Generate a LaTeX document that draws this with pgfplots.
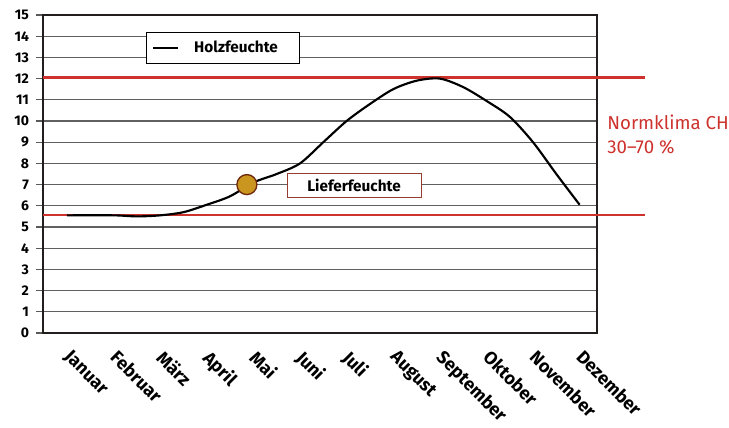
\documentclass[border=0pt]{standalone}
\usepackage{fontspec}
\setmainfont{Fira Sans}
\usepackage{pgfplots}
\pgfplotsset{compat=1.18}
\definecolor{nred}{RGB}{205,50,45}
\definecolor{gold}{RGB}{202,150,32}
\definecolor{brownb}{RGB}{110,40,12}
\definecolor{boxb}{RGB}{150,60,50}
\definecolor{frame}{RGB}{35,30,30}
\begin{document}
\begin{tikzpicture}
\begin{axis}[
  scale only axis,
  width=415.5pt, height=238.5pt,
  xmin=-0.515, xmax=11.373,
  ymin=0, ymax=15,
  clip=false,
  axis line style={line width=2pt, frame},
  ytick={0,1,...,15},
  ytick pos=left,
  yticklabel style={font=\bfseries\fontsize{10.5}{11}\selectfont, xshift=-2pt},
  /pgf/number format/assume math mode=true,
  major tick length=5pt,
  tick align=outside,
  y tick style={line width=0.8pt, gray!70!black},
  xtick={0,...,11},
  xticklabels={Januar,Februar,März,April,Mai,Juni,Juli,August,September,Oktober,November,Dezember},
  x tick style={draw=none},
  xticklabel style={font=\bfseries\fontsize{13.5}{14}\selectfont, xshift=4pt, yshift=-2pt, rotate=-45, anchor=north west},
  ymajorgrids,
  grid style={line width=0.8pt, gray!75!black},
  legend style={at={(0.186,0.9465)}, anchor=north west, draw=black, line width=0.6pt, font=\bfseries\fontsize{11.5}{12}\selectfont, inner xsep=4pt, inner ysep=4.5pt, legend cell align=left, nodes={inner xsep=3pt, inner ysep=2pt}},
  legend image code/.code={\draw[#1, line width=2pt] (0pt,0pt) -- (19pt,0pt); \path (27pt,0pt);},
]
\addplot[nred, line width=1.8pt, forget plot] coordinates {(-0.515,12.05) (12.4,12.05)};
\addplot[nred, line width=1.8pt, forget plot] coordinates {(-0.515,5.57) (12.4,5.57)};
\addplot[black, line width=1.6pt, smooth, tension=0.5] coordinates {
 (0,5.55) (1,5.55) (1.5,5.5) (2,5.55) (2.5,5.7) (3,6.05) (3.5,6.45) (4,7.1) (4.5,7.5) (5,8.0) (5.5,9.0) (6,10.0) (6.5,10.8) (7,11.5) (7.5,11.9) (8,12.0) (8.5,11.6) (9,10.95) (9.5,10.2) (10,9.0) (10.5,7.5) (11,6.05)
};
\addlegendentry{Holzfeuchte\hspace*{9pt}}
\addplot[only marks, mark=*, mark size=7.5pt, mark options={fill=gold, draw=brownb, line width=1pt}, forget plot] coordinates {(3.86,7.0)};
\node[draw=boxb, line width=0.8pt, fill=white, minimum width=100.5pt, minimum height=17.5pt, inner sep=0pt, font=\bfseries\fontsize{11.5}{12}\selectfont] at (axis cs:6.16,6.96) {Lieferfeuchte};
\node[anchor=west, align=left, text=nred, font=\fontsize{14}{17.5}\selectfont, inner sep=0pt] at (axis cs:11.59,9.36) {Normklima CH\\30--70 \%};
\end{axis}
\pgfresetboundingbox
\path[use as bounding box] (-32.25pt,-71.25pt) rectangle (514.5pt,249.75pt);
\end{tikzpicture}
\end{document}
